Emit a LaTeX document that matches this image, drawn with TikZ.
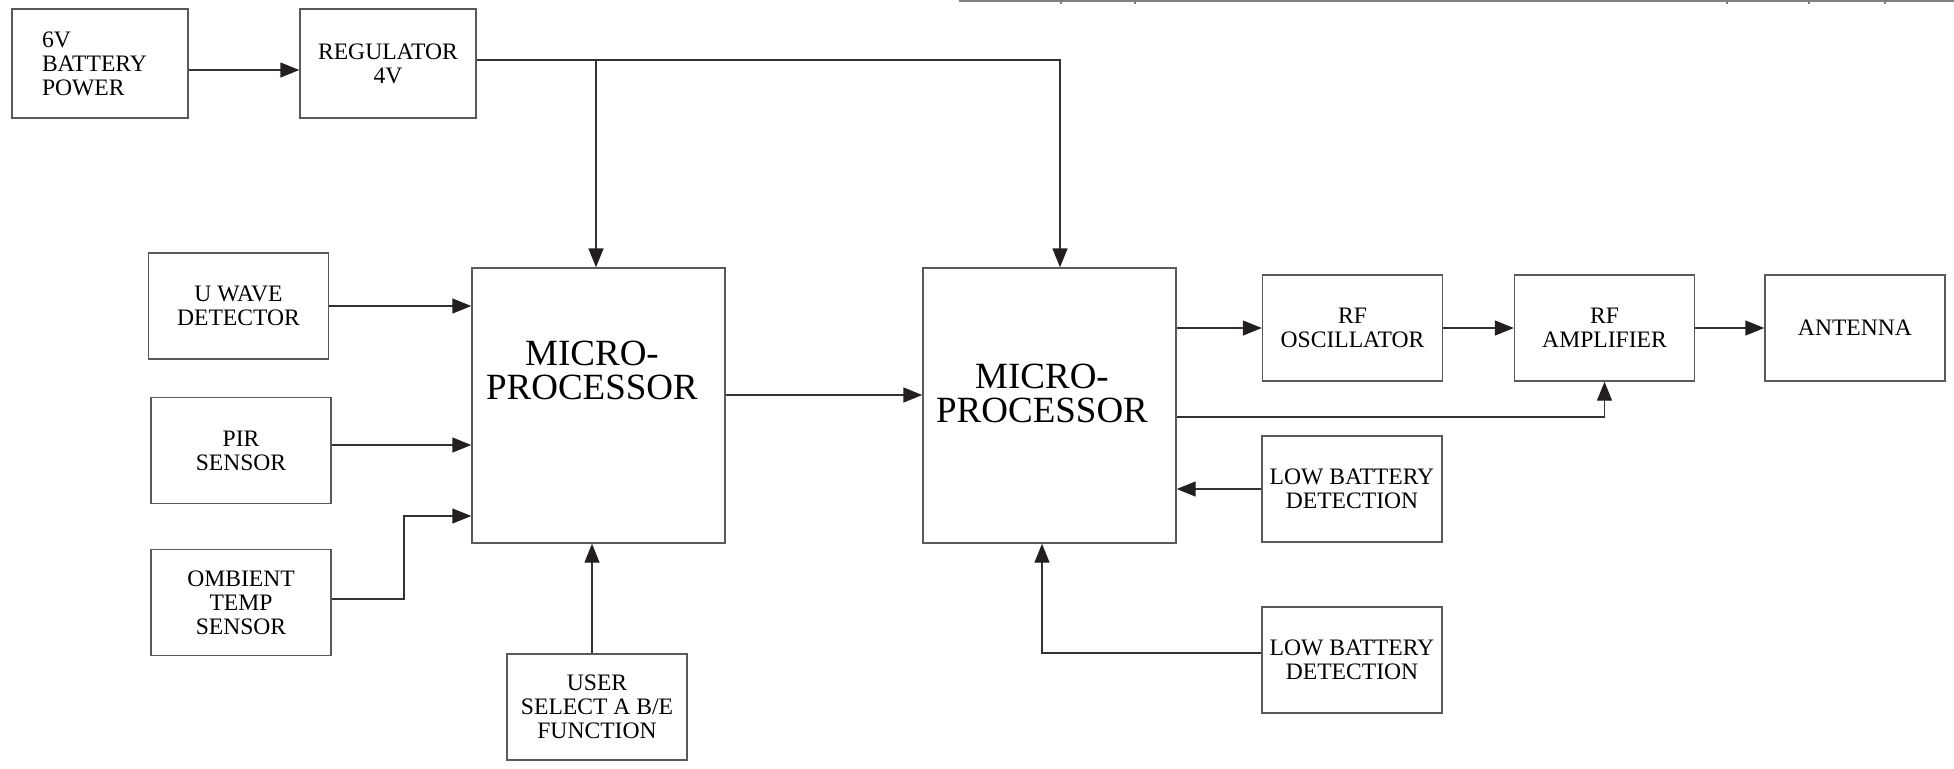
\documentclass[tikz,border=0pt]{standalone}
\usepackage{fontspec}
\setmainfont{Liberation Serif}
\usetikzlibrary{arrows.meta,positioning}
\definecolor{boxgray}{RGB}{90,90,90}
\definecolor{wiregray}{RGB}{50,50,50}
\definecolor{tipblack}{RGB}{35,31,32}

\begin{document}
\begin{tikzpicture}[x=0.5pt,y=-0.5pt,
    blk/.style={draw=boxgray,line width=0.7pt,minimum width=90pt,minimum height=53pt,
      inner sep=0pt,align=center,font=\fontsize{11.8}{12}\selectfont},
    mpu/.style={draw=boxgray,line width=0.7pt,minimum width=126.5pt,minimum height=137.5pt,inner sep=0pt},
    big/.style={align=center,inner sep=0pt,font=\fontsize{18.5}{17}\selectfont},
    a/.style={-{Triangle[length=9.5pt,width=7.5pt,color=tipblack]},line width=0.7pt,wiregray}]
  \useasboundingbox (0,0) rectangle (1954,768);
  % scan edge at the top
  \draw[gray,line width=1pt] (959,1) -- (1954,1);
  \foreach \tx in {1061,1135,1727,1809,1885} \draw[gray,line width=0.8pt] (\tx,0) -- (\tx,4);

  % power
  \node[blk,minimum width=88pt,minimum height=54.5pt,align=left,text width=58pt] (bat) at (100,63.5) {6V\\BATTERY\\POWER};
  \node[blk,minimum width=88pt,minimum height=54.5pt] (reg) at (388,63.5) {REGULATOR\\4V};

  % sensors
  \node[blk] (uwave) at (238.5,306) {U WAVE\\DETECTOR};
  \node[blk] (pir) at (241,450.5) {PIR\\SENSOR};
  \node[blk] (temp) at (241,602.5) {OMBIENT\\TEMP\\SENSOR};
  \node[blk] (user) at (597,707) {USER\\SELECT A B/E\\FUNCTION};

  % processors
  \node[mpu] (mp1) at (598.5,405.5) {};
  \node[big] (mp1txt) at (592,370) {MICRO-\\PROCESSOR};
  \node[mpu] (mp2) at (1049.5,405.5) {};
  \node[big] (mp2txt) at (1042,393) {MICRO-\\PROCESSOR};

  % rf chain
  \node[blk] (osc) at (1352.5,328) {RF\\OSCILLATOR};
  \node[blk] (amp) at (1604.5,328) {RF\\AMPLIFIER};
  \node[blk] (ant) at (1855,328) {ANTENNA};
  \node[blk] (lb1) at (1352,489) {LOW BATTERY\\DETECTION};
  \node[blk] (lb2) at (1352,660) {LOW BATTERY\\DETECTION};

  \coordinate (regout) at ([yshift=1.75pt]reg.east);
  \coordinate (mp1in) at ([xshift=-1.25pt]mp1.north);
  \coordinate (pirout) at ([yshift=2.75pt]pir.east);
  \coordinate (tempout) at ([yshift=1.75pt]temp.east);
  \coordinate (tempknee) at (404,516);
  \coordinate (userin) at ([xshift=-2.5pt]user.north);

  \draw[a] ([yshift=-3.25pt]bat.east) -- ([yshift=-3.25pt]reg.west);
  \draw[a] (regout) -| ([xshift=5.25pt]mp2.north);
  \draw[a] (regout -| mp1in) -- (mp1in);
  \draw[a] (uwave.east) -- (uwave.east -| mp1.west);
  \draw[a] (pirout) -- (pirout -| mp1.west);
  \draw[a] (tempout) -| (tempknee) -- (tempknee -| mp1.west);
  \draw[a] (userin) -- (userin |- mp1.south);
  \draw[a] ([yshift=5.25pt]mp1.east) -- ([yshift=5.25pt]mp2.west);
  \draw[a] (mp2.east |- osc.west) -- (osc.west);
  \draw[a] (osc) -- (amp); \draw[a] (amp) -- (ant);
  \draw[a] ([yshift=-5.75pt]mp2.east) -| (amp.south);
  \draw[a] (lb1.west) -- (lb1.west -| mp2.east);
  \draw[a] ([yshift=3.5pt]lb2.west) -| ([xshift=-3.75pt]mp2.south);
\end{tikzpicture}
\end{document}
